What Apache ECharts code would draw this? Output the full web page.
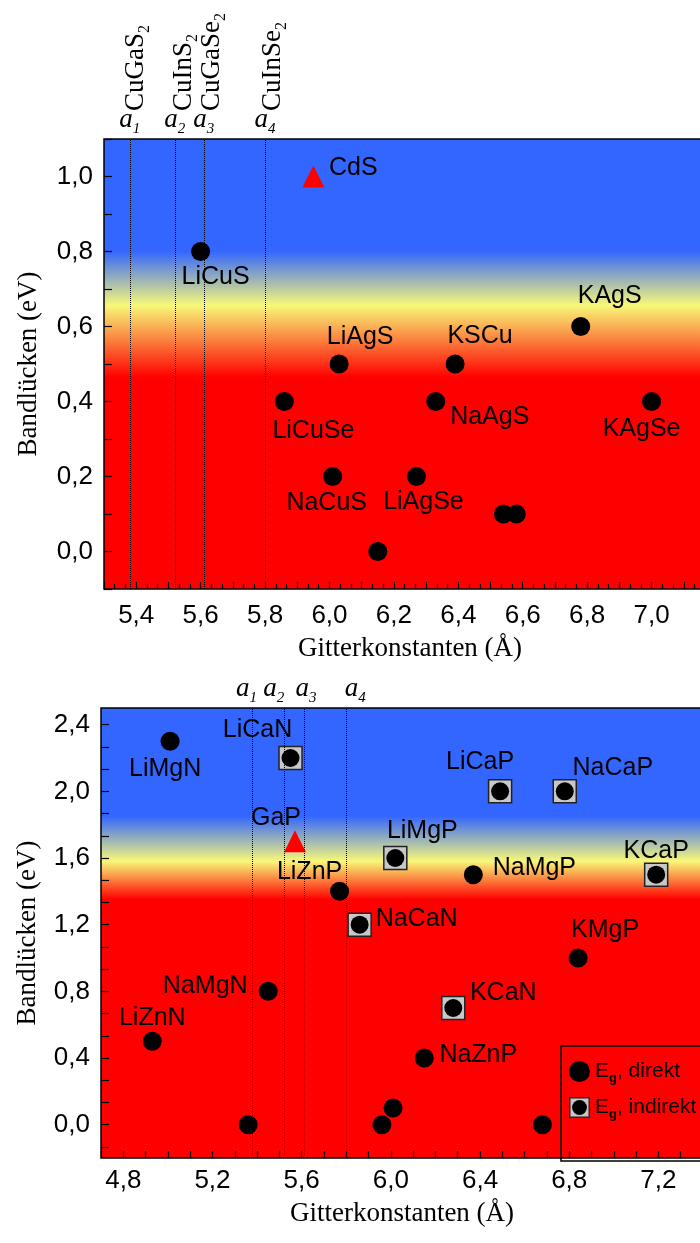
<!DOCTYPE html>
<html>
<head>
<meta charset="utf-8">
<script src="https://cdn.jsdelivr.net/npm/echarts@6/dist/echarts.min.js"></script>
<style>
  html, body { margin: 0; padding: 0; background: #fff; }
  #chart { width: 700px; height: 1243px; }
</style>
</head>
<body>
<div id="chart"></div>
<script>
  // Gitterkonstanten der Chalkopyrite (a1..a4)
  var aNames = ['CuGaS', 'CuInS', 'CuGaSe', 'CuInSe'];
  var aValues = [5.375, 5.523, 5.61, 5.80];

  // oberes Diagramm
  var topNames = ['LiCuS', 'LiAgS', 'KSCu', 'KAgS', 'LiCuSe', 'NaAgS', 'KAgSe', 'NaCuS', 'LiAgSe', '', '', ''];
  var topX = [5.60, 6.03, 6.39, 6.78, 5.86, 6.33, 7.00, 6.01, 6.27, 6.54, 6.58, 6.15];
  var topY = [0.8, 0.5, 0.5, 0.6, 0.4, 0.4, 0.4, 0.2, 0.2, 0.1, 0.1, 0.0];
  var topRefNames = ['CdS'];
  var topRefX = [5.95];
  var topRefY = [1.0];

  // unteres Diagramm
  var botDirNames = ['LiMgN', 'LiZnP', 'NaMgP', 'KMgP', 'NaMgN', 'LiZnN', 'NaZnP', '', '', '', ''];
  var botDirX = [5.01, 5.77, 6.37, 6.84, 5.45, 4.93, 6.15, 5.36, 5.96, 6.01, 6.68];
  var botDirY = [2.3, 1.4, 1.5, 1.0, 0.8, 0.5, 0.4, 0.0, 0.0, 0.1, 0.0];
  var botIndNames = ['LiCaN', 'LiCaP', 'NaCaP', 'LiMgP', 'KCaP', 'NaCaN', 'KCaN'];
  var botIndX = [5.55, 6.49, 6.78, 6.02, 7.19, 5.86, 6.28];
  var botIndY = [2.2, 2.0, 2.0, 1.6, 1.5, 1.2, 0.7];
  var botRefNames = ['GaP'];
  var botRefX = [5.57];
  var botRefY = [1.7];

  // Tick-Beschriftungen
  var botYLabels = [0, 0.4, 0.8, 1.2, 1.6, 2.0, 2.4];

  // Lage der Beschriftung relativ zum Punkt (px)
  var labelOffset = {
    CdS: [40, -8], LiCuS: [15, 26], LiAgS: [21, -27], KSCu: [25, -28], KAgS: [29, -30],
    LiCuSe: [29, 30], NaAgS: [54, 16], KAgSe: [-10, 28], NaCuS: [-6, 27], LiAgSe: [7, 26],
    GaP: [-19, -23], LiMgP: [27, -27], KCaP: [0, -24], LiZnP: [-30, -19], NaMgP: [61, -7],
    NaCaN: [57, -6], KMgP: [27, -28], NaMgN: [-63, -5], KCaN: [50, -15], LiZnN: [0, -23],
    NaZnP: [54, -3], LiMgN: [-5, 28], LiCaN: [-33, -28], LiCaP: [-20, -29], NaCaP: [48, -23]
  };
  // Verschiebung der a-Beschriftungen im unteren Diagramm
  var aShiftBottom = [-6, -10, 2, 9];

  var SANS = 'Liberation Sans, Arial, sans-serif';
  var SERIF = 'Liberation Serif, Times New Roman, serif';

  function pts(names, xs, ys, withLabel) {
    return xs.map(function (x, i) {
      var n = names[i];
      var item = { name: n, value: [x, ys[i]] };
      if (withLabel && n) {
        item.label = {
          show: true, position: 'inside', formatter: n,
          offset: labelOffset[n] || [0, 0],
          color: '#000', fontFamily: SANS, fontSize: 25
        };
      }
      return item;
    });
  }

  function fmt(v) { return v.toFixed(1).replace('.', ','); }

  var botYTicks = [];
  for (var k = -1; k <= 18; k++) botYTicks.push(k * 0.4 / 3);

  function bg(blueEnd, yellow, redStart) {
    return {
      type: 'linear', x: 0, y: 0, x2: 0, y2: 1,
      colorStops: [
        { offset: 0, color: '#3366ff' },
        { offset: blueEnd, color: '#3366ff' },
        { offset: yellow, color: '#f8f878' },
        { offset: redStart, color: '#ff0000' },
        { offset: 1, color: '#ff0000' }
      ]
    };
  }

  var subRich = {
    a: { fontFamily: SERIF, fontStyle: 'italic', fontSize: 27, lineHeight: 34, color: '#000' },
    s: { fontFamily: SERIF, fontStyle: 'italic', fontSize: 15, lineHeight: 10, verticalAlign: 'bottom', color: '#000' }
  };

  function aLines(shift) {
    return {
      silent: true, symbol: 'none', animation: false,
      lineStyle: { type: 'dotted', color: '#000', width: 1 },
      label: {
        position: 'end', distance: 2,
        formatter: function (p) { return '{a|a}{s|' + (p.dataIndex + 1) + '}'; },
        rich: subRich
      },
      data: aValues.map(function (v, i) {
        return { xAxis: v, label: { offset: [shift ? shift[i] : 0, 0] } };
      })
    };
  }

  var indirektIcon = 'image://data:image/svg+xml;charset=utf-8,' + encodeURIComponent(
    '<svg xmlns="http://www.w3.org/2000/svg" width="24" height="24">' +
    '<rect x="1" y="1" width="22" height="22" fill="#c8c8c8" stroke="#222" stroke-width="1.5"/>' +
    '<circle cx="12" cy="12" r="8.5" fill="#000"/></svg>');

  var myChart = echarts.init(document.getElementById('chart'));

  var tickStyle = { color: '#000', width: 1.2 };

  var option = {
    animation: false,
    backgroundColor: '#fff',
    grid: [
      { left: 104, top: 139, width: 612, height: 450, show: true, outerBoundsMode: 'none',
        backgroundColor: bg(0.25, 0.37, 0.53), borderColor: '#000', borderWidth: 1.5 },
      { left: 101, top: 708, width: 602, height: 450, show: true, outerBoundsMode: 'none',
        backgroundColor: bg(0.241, 0.341, 0.426), borderColor: '#000', borderWidth: 1.5 }
    ],
    legend: {
      left: 561, top: 1046, orient: 'vertical', selectedMode: false,
      padding: [15, 8, 40, 8], itemGap: 12, itemWidth: 21, itemHeight: 21,
      borderColor: '#000', borderWidth: 1.5,
      data: [{ name: 'Eg, direkt', icon: 'circle' }, { name: 'Eg, indirekt', icon: indirektIcon }],
      formatter: function (n) { return '{e|E}{g|g}{e|' + n.slice(2) + '}'; },
      textStyle: {
        rich: {
          e: { fontFamily: SANS, fontSize: 21, lineHeight: 27, color: '#000' },
          g: { fontFamily: SANS, fontSize: 13, fontWeight: 'bold', lineHeight: 8, verticalAlign: 'bottom', color: '#000' }
        }
      }
    },
    xAxis: [
      { gridIndex: 0, type: 'value', min: 5.3, max: 7.2, interval: 0.1,
        name: 'Gitterkonstanten (Å)', nameLocation: 'middle', nameGap: 46,
        nameTextStyle: { fontFamily: SERIF, fontSize: 27, color: '#000' },
        axisLine: { show: false, onZero: false }, splitLine: { show: false },
        axisTick: { inside: true, length: 7, lineStyle: tickStyle },
        minorTick: { show: true, splitNumber: 3, length: 5, lineStyle: tickStyle },
        axisLabel: { margin: 14, color: '#000', fontFamily: SANS, fontSize: 26,
          formatter: function (v) { var k = Math.round(v * 10); return (k % 2 === 0 && k >= 54 && k <= 70) ? fmt(v) : ''; } } },
      { gridIndex: 0, type: 'value', position: 'top', min: 5.3, max: 7.2,
        axisLine: { show: false, onZero: false }, axisTick: { show: false }, splitLine: { show: false },
        axisLabel: { customValues: aValues, rotate: -90, margin: 28, padding: [16, 0, 0, 0],
          formatter: function (v) {
            var i = 0;
            aValues.forEach(function (a, j) { if (Math.abs(a - v) < Math.abs(aValues[i] - v)) i = j; });
            return '{n|' + aNames[i] + '}{s|2}';
          },
          rich: {
            n: { fontFamily: SERIF, fontSize: 27, lineHeight: 34, color: '#000' },
            s: { fontFamily: SERIF, fontSize: 16, lineHeight: 10, verticalAlign: 'bottom', color: '#000' }
          } } },
      { gridIndex: 1, type: 'value', min: 4.7, max: 7.4, interval: 0.1,
        name: 'Gitterkonstanten (Å)', nameLocation: 'middle', nameGap: 42,
        nameTextStyle: { fontFamily: SERIF, fontSize: 27, color: '#000' },
        axisLine: { show: false, onZero: false }, splitLine: { show: false },
        axisTick: { inside: true, length: 7, lineStyle: tickStyle },
        axisLabel: { margin: 10, color: '#000', fontFamily: SANS, fontSize: 26,
          formatter: function (v) { var k = Math.round(v * 10); return (k % 4 === 0 && k <= 72) ? fmt(v) : ''; } } }
    ],
    yAxis: [
      { gridIndex: 0, type: 'value', min: -0.1, max: 1.1, interval: 0.1,
        name: 'Bandlücken (eV)', nameLocation: 'middle', nameGap: 62,
        nameTextStyle: { fontFamily: SERIF, fontSize: 27, color: '#000' },
        axisLine: { show: false, onZero: false }, splitLine: { show: false },
        axisTick: { inside: true, length: 8, lineStyle: tickStyle },
        axisLabel: { margin: 11, color: '#000', fontFamily: SANS, fontSize: 26,
          formatter: function (v) { var k = Math.round(v * 10); return (k % 2 === 0) ? fmt(v) : ''; } } },
      { gridIndex: 1, type: 'value', min: -0.2, max: 2.5,
        name: 'Bandlücken (eV)', nameLocation: 'middle', nameGap: 60,
        nameTextStyle: { fontFamily: SERIF, fontSize: 27, color: '#000' },
        axisLine: { show: false, onZero: false }, splitLine: { show: false },
        axisTick: { inside: true, length: 8, customValues: botYTicks, lineStyle: tickStyle },
        axisLabel: { margin: 11, color: '#000', fontFamily: SANS, fontSize: 26,
          customValues: botYLabels, formatter: function (v) { return fmt(v); } } }
    ],
    series: [
      { name: 'a-top', type: 'scatter', xAxisIndex: 0, yAxisIndex: 0, data: [], z: 1, markLine: aLines(null) },
      { name: 'top-dir', type: 'scatter', xAxisIndex: 0, yAxisIndex: 0, z: 3,
        symbol: 'circle', symbolSize: 19, itemStyle: { color: '#000', opacity: 1 },
        data: pts(topNames, topX, topY, true) },
      { name: 'top-ref', type: 'scatter', xAxisIndex: 0, yAxisIndex: 0, z: 3,
        symbol: 'triangle', symbolSize: 22, itemStyle: { color: '#ff0000', opacity: 1 },
        data: pts(topRefNames, topRefX, topRefY, true) },

      { name: 'a-bot', type: 'scatter', xAxisIndex: 2, yAxisIndex: 1, data: [], z: 1, markLine: aLines(aShiftBottom) },
      { name: 'Eg, indirekt', type: 'scatter', xAxisIndex: 2, yAxisIndex: 1, z: 3,
        symbol: 'rect', symbolSize: 23,
        itemStyle: { color: '#c8c8c8', borderColor: '#222', borderWidth: 1.5, opacity: 1 },
        data: pts(botIndNames, botIndX, botIndY, true) },
      { name: 'ind-dot', type: 'scatter', xAxisIndex: 2, yAxisIndex: 1, z: 4,
        symbol: 'circle', symbolSize: 18, itemStyle: { color: '#000', opacity: 1 },
        data: pts(botIndNames, botIndX, botIndY, false) },
      { name: 'Eg, direkt', type: 'scatter', xAxisIndex: 2, yAxisIndex: 1, z: 3,
        symbol: 'circle', symbolSize: 19, itemStyle: { color: '#000', opacity: 1 },
        data: pts(botDirNames, botDirX, botDirY, true) },
      { name: 'bot-ref', type: 'scatter', xAxisIndex: 2, yAxisIndex: 1, z: 3,
        symbol: 'triangle', symbolSize: 22, itemStyle: { color: '#ff0000', opacity: 1 },
        data: pts(botRefNames, botRefX, botRefY, true) }
    ]
  };

  myChart.setOption(option);
</script>
</body>
</html>
